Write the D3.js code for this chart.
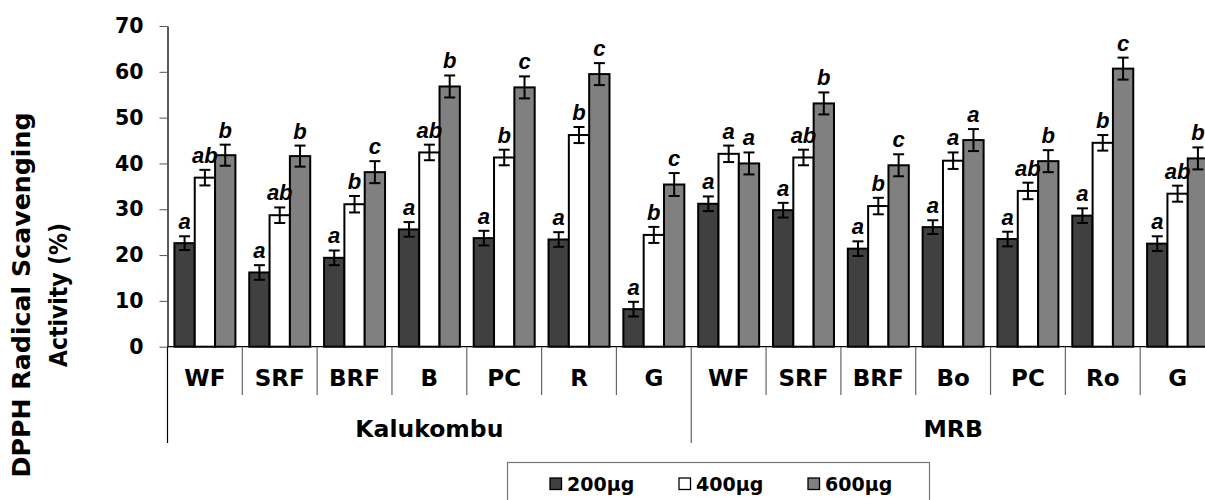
<!DOCTYPE html>
<html lang="en">
<head>
  <meta charset="UTF-8">
  <title>DPPH Radical Scavenging Activity</title>
  <script src="https://d3js.org/d3.v7.min.js"></script>
  <style>
    body { margin: 0; background: #fff; }
    svg { font-family: "DejaVu Sans", sans-serif; font-weight: bold; display: block; }
    .letter { font-family: "Liberation Sans", Arial, sans-serif; font-style: italic; font-size: 22px; }
  </style>
</head>
<body>
  <svg width="1205" height="500"></svg>
  <script>
    const svg = d3.select("svg");

    const groups = ["Kalukombu", "MRB"];
    const groupOf = [0, 0, 0, 0, 0, 0, 0, 1, 1, 1, 1, 1, 1, 1];
    const labels = ["WF", "SRF", "BRF", "B", "PC", "R", "G", "WF", "SRF", "BRF", "Bo", "PC", "Ro", "G"];
    const series = ["200µg", "400µg", "600µg"];
    const colors = ["#404040", "#ffffff", "#808080"];

    const v200 = [22.6, 16.2, 19.4, 25.6, 23.7, 23.4, 8.2, 31.2, 29.8, 21.4, 26.1, 23.5, 28.6, 22.5];
    const v400 = [36.9, 28.7, 31.1, 42.4, 41.3, 46.2, 24.4, 42.1, 41.3, 30.7, 40.6, 34.0, 44.5, 33.4];
    const v600 = [41.8, 41.6, 38.1, 56.8, 56.6, 59.5, 35.4, 40.0, 53.1, 39.6, 45.1, 40.5, 60.7, 41.1];

    const e200 = [1.5, 1.6, 1.6, 1.6, 1.6, 1.6, 1.6, 1.6, 1.6, 1.6, 1.5, 1.6, 1.6, 1.6];
    const e400 = [1.7, 1.7, 1.8, 1.7, 1.7, 1.75, 1.75, 1.8, 1.7, 1.8, 1.8, 1.8, 1.7, 1.75];
    const e600 = [2.3, 2.3, 2.4, 2.4, 2.4, 2.4, 2.5, 2.4, 2.4, 2.4, 2.4, 2.4, 2.4, 2.4];

    const l200 = ["a", "a", "a", "a", "a", "a", "a", "a", "a", "a", "a", "a", "a", "a"];
    const l400 = ["ab", "ab", "b", "ab", "b", "b", "b", "a", "ab", "b", "a", "ab", "b", "ab"];
    const l600 = ["b", "b", "c", "b", "c", "c", "c", "a", "b", "c", "a", "b", "c", "b"];

    const yTicks = [0, 10, 20, 30, 40, 50, 60, 70];

    const values = [v200, v400, v600];
    const errors = [e200, e400, e600];
    const letters = [l200, l400, l600];

    const plotLeft = 167.5, plotRight = 1215, plotTop = 26, plotBase = 346.7;

    const idx = d3.range(labels.length);
    const x0 = d3.scaleBand()
      .domain(idx)
      .range([plotLeft, plotRight])
      .paddingInner(0.185)
      .paddingOuter(0.0925);
    const step = x0.step();
    const x1 = d3.scaleBand()
      .domain(d3.range(series.length))
      .range([0, x0.bandwidth()]);
    const y = d3.scaleLinear().domain([0, 70]).range([plotBase, plotTop]);

    // y axis
    const yAxis = svg.append("g")
      .attr("transform", `translate(${plotLeft},0)`)
      .call(d3.axisLeft(y).tickValues(yTicks).tickSizeInner(8).tickSizeOuter(0).tickPadding(16));
    yAxis.select(".domain").attr("stroke", "#000").attr("stroke-width", 1.3);
    yAxis.selectAll(".tick line").attr("stroke", "#555");
    yAxis.selectAll(".tick text")
      .attr("font-family", "DejaVu Sans, sans-serif")
      .attr("font-weight", "bold")
      .attr("font-size", "20.5px")
      .attr("fill", "#000");

    // bars
    const cat = svg.append("g").selectAll("g")
      .data(idx)
      .join("g")
      .attr("transform", i => `translate(${x0(i)},0)`);

    cat.selectAll("rect")
      .data(i => series.map((s, k) => ({ k, v: values[k][i] })))
      .join("rect")
      .attr("x", d => x1(d.k))
      .attr("y", d => y(d.v))
      .attr("width", x1.bandwidth())
      .attr("height", d => y(0) - y(d.v))
      .attr("fill", d => colors[d.k])
      .attr("stroke", "#000")
      .attr("stroke-width", 2);

    // error bars
    const err = cat.selectAll("g.err")
      .data(i => series.map((s, k) => ({ k, v: values[k][i], e: errors[k][i], t: letters[k][i] })))
      .join("g")
      .attr("class", "err")
      .attr("transform", d => `translate(${x1(d.k) + x1.bandwidth() / 2},0)`)
      .attr("stroke", "#000")
      .attr("stroke-width", 2);
    err.append("line").attr("y1", d => y(d.v - d.e)).attr("y2", d => y(d.v + d.e));
    err.append("line").attr("x1", -5.5).attr("x2", 5.5).attr("y1", d => y(d.v + d.e)).attr("y2", d => y(d.v + d.e));
    err.append("line").attr("x1", -5.5).attr("x2", 5.5).attr("y1", d => y(d.v - d.e)).attr("y2", d => y(d.v - d.e));

    // significance letters
    err.append("text")
      .attr("class", "letter")
      .attr("stroke", "none")
      .attr("fill", "#000")
      .attr("text-anchor", "middle")
      .attr("y", d => y(d.v + d.e) - 7)
      .text(d => d.t);

    // x axis baseline and separators
    svg.append("line")
      .attr("x1", plotLeft).attr("x2", plotRight)
      .attr("y1", plotBase).attr("y2", plotBase)
      .attr("stroke", "#000").attr("stroke-width", 1.3);

    const edges = d3.range(labels.length + 1);
    svg.append("g").selectAll("line")
      .data(edges)
      .join("line")
      .attr("x1", i => plotLeft + i * step)
      .attr("x2", i => plotLeft + i * step)
      .attr("y1", plotBase)
      .attr("y2", i => (i === 0 || i === labels.length || groupOf[i] !== groupOf[i - 1]) ? 443 : 395)
      .attr("stroke", i => (i === 0) ? "#000" : "#666")
      .attr("stroke-width", 1.2);

    svg.append("g").selectAll("text")
      .data(idx)
      .join("text")
      .attr("x", i => x0(i) + x0.bandwidth() / 2)
      .attr("y", 386)
      .attr("text-anchor", "middle")
      .attr("font-size", "23px")
      .text(i => labels[i]);

    svg.append("g").selectAll("text")
      .data(groups)
      .join("text")
      .attr("x", (g, j) => {
        const members = idx.filter(i => groupOf[i] === j);
        return plotLeft + (d3.min(members) + d3.max(members) + 1) / 2 * step;
      })
      .attr("y", 437)
      .attr("text-anchor", "middle")
      .attr("font-size", "23.5px")
      .text(g => g);

    // y axis title
    const title = svg.append("g")
      .attr("transform", "translate(0,295) rotate(-90)")
      .attr("text-anchor", "middle")
      .attr("font-size", "25px");
    title.append("text").attr("x", 0).attr("y", 30)
      .attr("textLength", 365).attr("lengthAdjust", "spacingAndGlyphs")
      .text("DPPH Radical Scavenging");
    title.append("text").attr("x", 0).attr("y", 67)
      .attr("textLength", 144).attr("lengthAdjust", "spacingAndGlyphs")
      .text("Activity (%)");

    // legend
    const legend = svg.append("g");
    legend.append("rect")
      .attr("x", 507.5).attr("y", 462.5)
      .attr("width", 422).attr("height", 60)
      .attr("fill", "#fff").attr("stroke", "#777").attr("stroke-width", 1.2);
    const item = legend.selectAll("g.item")
      .data(series)
      .join("g")
      .attr("class", "item")
      .attr("transform", (s, k) => `translate(${550 + k * 129},0)`);
    item.append("rect")
      .attr("x", 0).attr("y", 478)
      .attr("width", 11.5).attr("height", 11.5)
      .attr("fill", (s, k) => colors[k])
      .attr("stroke", "#000").attr("stroke-width", 1.3);
    item.append("text")
      .attr("x", 17).attr("y", 490.5)
      .attr("font-size", "19px")
      .text(s => s);
  </script>
</body>
</html>
